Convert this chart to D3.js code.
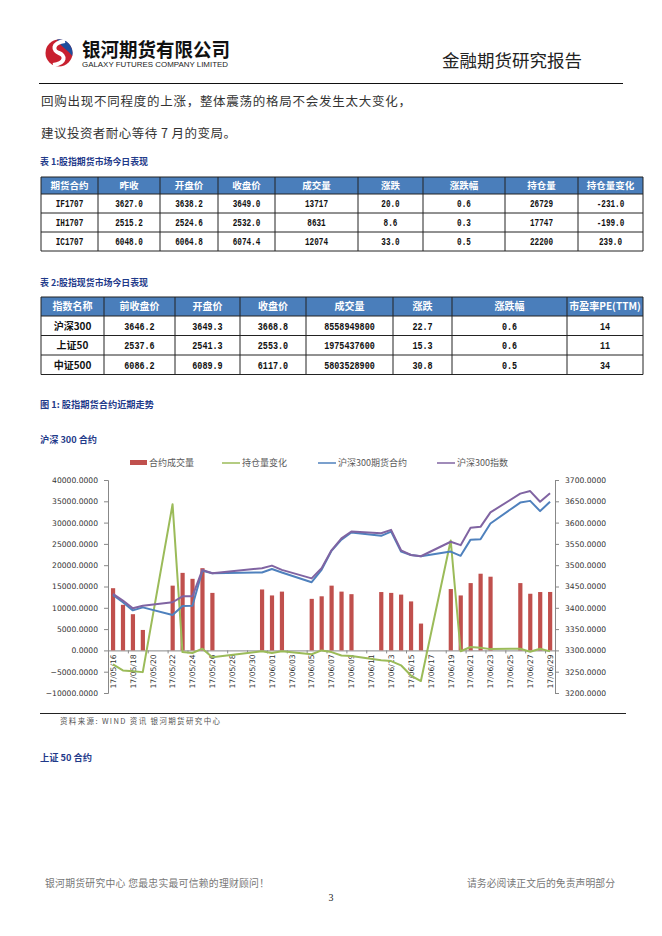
<!DOCTYPE html>
<html><head><meta charset="utf-8">
<script src="https://cdn.jsdelivr.net/npm/d3@7"></script>
<style>body{margin:0;background:#fff}svg{display:block}</style>
</head><body>
<script>
// ---------------- data ----------------
const t1Header = ["期货合约","昨收","开盘价","收盘价","成交量","涨跌","涨跌幅","持仓量","持仓量变化"];
const t1Rows = [
  ["IF1707","3627.0","3638.2","3649.0","13717","20.0","0.6","26729","-231.0"],
  ["IH1707","2515.2","2524.6","2532.0","8631","8.6","0.3","17747","-199.0"],
  ["IC1707","6048.0","6064.8","6074.4","12074","33.0","0.5","22200","239.0"]
];
const t2Header = ["指数名称","前收盘价","开盘价","收盘价","成交量","涨跌","涨跌幅","市盈率PE(TTM)"];
const t2Rows = [
  ["沪深300","3646.2","3649.3","3668.8","8558949800","22.7","0.6","14"],
  ["上证50","2537.6","2541.3","2553.0","1975437600","15.3","0.6","11"],
  ["中证500","6086.2","6089.9","6117.0","5803528900","30.8","0.5","34"]
];
const dates = ["2017-05-16","2017-05-17","2017-05-18","2017-05-19","2017-05-22","2017-05-23","2017-05-24","2017-05-25","2017-05-26","2017-05-31","2017-06-01","2017-06-02","2017-06-05","2017-06-06","2017-06-07","2017-06-08","2017-06-09","2017-06-12","2017-06-13","2017-06-14","2017-06-15","2017-06-16","2017-06-19","2017-06-20","2017-06-21","2017-06-22","2017-06-23","2017-06-26","2017-06-27","2017-06-28","2017-06-29"];
const volume = [14600,10700,8500,4800,15200,18200,16800,19300,13500,14300,12900,13800,12100,12700,15200,13800,13200,13700,13500,13100,11500,6300,14400,12900,15800,18000,17300,15800,13300,13700,13717];
const oiChange = [-3300,-4700,-4900,-5100,34300,-400,-600,400,-1600,-200,-600,-200,-900,0,-400,-1200,-1300,-2300,-2500,-3500,-5900,-7200,25800,-200,800,600,300,400,-300,400,-231];
const futures = [3430,3413,3394,3401,3383,3404,3405,3487,3481,3483,3491,3483,3460,3489,3534,3560,3577,3569,3579,3532,3524,3521,3532,3522,3560,3561,3598,3647,3651,3627,3649];
const index300 = [3433,3417,3399,3405,3413,3427,3427,3489,3481,3493,3499,3489,3469,3493,3535,3563,3579,3575,3583,3535,3524,3521,3555,3547,3588,3590,3624,3668,3674,3649,3668.8];
const seriesNames = ["合约成交量","持仓量变化","沪深300期货合约","沪深300指数"];
const leftTicks = [-10000,-5000,0,5000,10000,15000,20000,25000,30000,35000,40000];
const rightTicks = [3200,3250,3300,3350,3400,3450,3500,3550,3600,3650,3700];

// ---------------- page ----------------
const CJK = "'Noto Sans CJK SC', sans-serif";
const svg = d3.select("body").append("svg").attr("width",662).attr("height",936);
svg.append("rect").attr("width",662).attr("height",936).attr("fill","#fff");

// logo
const logo = svg.append("g").attr("transform","translate(59,53)");
logo.append("circle").attr("r",13.5).attr("fill","#c8202f");
logo.append("path").attr("d","M -2,-13.5 A 13.5 13.5 0 0 1 13.2,3 C 8,-4 2,-6 -2,-13.5 Z").attr("fill","#1f4e9c");
logo.append("path").attr("d","M 6,-12 C -8,-10 -6,-2 0,0 C 6,2 8,10 -6,12").attr("fill","none").attr("stroke","#fff").attr("stroke-width",4);
svg.append("text").attr("x",82).attr("y",57).attr("font-family",CJK).attr("font-weight","bold")
  .attr("font-size",19).attr("textLength",148).attr("lengthAdjust","spacingAndGlyphs").attr("fill","#111").text("银河期货有限公司");
svg.append("text").attr("x",82).attr("y",67).attr("font-family","'Liberation Sans Narrow','Liberation Sans',sans-serif")
  .attr("font-size",6.5).attr("textLength",146).attr("lengthAdjust","spacingAndGlyphs").attr("fill","#222").text("GALAXY FUTURES COMPANY LIMITED");
svg.append("text").attr("x",442).attr("y",67).attr("font-family",CJK).attr("font-size",17)
  .attr("textLength",140).attr("lengthAdjust","spacingAndGlyphs").attr("fill","#222").text("金融期货研究报告");
svg.append("line").attr("x1",39).attr("x2",623).attr("y1",83.5).attr("y2",83.5).attr("stroke","#111").attr("stroke-width",1);

// paragraph
svg.append("text").attr("x",41).attr("y",106).attr("font-family",CJK).attr("font-size",12.5)
  .attr("textLength",370).attr("lengthAdjust","spacing").attr("fill","#333").text("回购出现不同程度的上涨，整体震荡的格局不会发生太大变化，");
svg.append("text").attr("x",41).attr("y",138).attr("font-family",CJK).attr("font-size",12.5)
  .attr("textLength",195).attr("lengthAdjust","spacing").attr("fill","#333").text("建议投资者耐心等待 7 月的变局。");

function heading(txt,y,len){
  svg.append("text").attr("x",40).attr("y",y).attr("font-family",CJK).attr("font-weight","bold")
    .attr("font-size",9).attr("fill","#1f3a8a").attr("textLength",len).attr("lengthAdjust","spacingAndGlyphs").text(txt);
}
heading("表 1:股指期货市场今日表现",165,108);
heading("表 2:股指现货市场今日表现",286,108);
heading("图 1: 股指期货合约近期走势",408,114);
heading("沪深 300 合约",443,57);
heading("上证 50 合约",761,52);

function drawTable(cols, top, hh, rh, header, rows, hfs, bfs, firstBold){
  const g = svg.append("g");
  const left = cols[0], right = cols[cols.length-1];
  g.append("rect").attr("x",left).attr("y",top).attr("width",right-left).attr("height",hh).attr("fill","#4a7ebb");
  header.forEach((h,i)=>{
    const t = g.append("text").attr("x",(cols[i]+cols[i+1])/2).attr("y",top+hh/2+hfs*0.36).attr("text-anchor","middle")
      .attr("font-family",CJK).attr("font-weight","bold").attr("font-size",hfs).attr("fill","#fff").text(h);
    const avail = cols[i+1]-cols[i]-4;
    if(t.node().getComputedTextLength() > avail) t.attr("textLength",avail).attr("lengthAdjust","spacingAndGlyphs");
  });
  const bottom = top+hh+rh*rows.length;
  rows.forEach((r,j)=>{
    const cy = top+hh+rh*j+rh/2;
    r.forEach((v,i)=>{
      const t = g.append("text").attr("x",(cols[i]+cols[i+1])/2).attr("y",cy+bfs*0.36).attr("text-anchor","middle").attr("fill","#111");
      if(i===0 && firstBold){
        t.attr("font-family",CJK).attr("font-weight","bold").attr("font-size",bfs-1).text(v);
      } else {
        t.attr("font-family","'Liberation Mono',monospace").attr("font-size",bfs).attr("font-weight","bold")
         .attr("textLength",v.length*bfs*0.46).attr("lengthAdjust","spacingAndGlyphs").text(v);
      }
    });
    g.append("line").attr("x1",left).attr("x2",right).attr("y1",top+hh+rh*(j+1)).attr("y2",top+hh+rh*(j+1)).attr("stroke","#222").attr("stroke-width",1);
  });
  cols.forEach(c=>g.append("line").attr("x1",c).attr("x2",c).attr("y1",top).attr("y2",bottom).attr("stroke","#222").attr("stroke-width",1));
  g.append("line").attr("x1",left).attr("x2",right).attr("y1",top).attr("y2",top).attr("stroke","#222");
  g.append("line").attr("x1",left).attr("x2",right).attr("y1",top+hh).attr("y2",top+hh).attr("stroke","#222");
}
drawTable([41,98,160,218,275,358,423,505,578,643],177,17,19,t1Header,t1Rows,9.5,10,false);
drawTable([41,104,175,240,306,393,452,567,643],297,19,19.5,t2Header,t2Rows,10,11,true);

// ---------------- chart ----------------
const parse = d3.utcParse("%Y-%m-%d");
const dd = dates.map(parse);
const x0 = parse("2017-05-16"), x1 = parse("2017-06-30");
const x = d3.scaleUtc().domain([x0,x1]).range([108,555]);
const half = 12*3600*1000;
const cx = d => x(new Date(d.getTime()+half));
const yL = d3.scaleLinear().domain([-10000,40000]).range([693,480]);
const yR = d3.scaleLinear().domain([3200,3700]).range([693,480]);
const axisColor = "#888";
const tickFont = "'DejaVu Sans',sans-serif";

const gAL = svg.append("g").attr("transform","translate(108,0)")
  .call(d3.axisLeft(yL).tickValues(leftTicks).tickFormat(d3.format(".4f")).tickSize(4).tickPadding(6));
const gAR = svg.append("g").attr("transform","translate(555,0)")
  .call(d3.axisRight(yR).tickValues(rightTicks).tickFormat(d3.format(".4f")).tickSize(4).tickPadding(6));
[gAL,gAR].forEach(g=>{
  g.select(".domain").attr("stroke",axisColor);
  g.selectAll(".tick line").attr("stroke",axisColor);
  g.selectAll(".tick text").attr("font-family",tickFont).attr("font-size",7.6).attr("fill","#333");
});

// x axis at zero
const labelDays = d3.utcDay.range(x0,x1,1).filter((d,i)=>i%2===0);
const gX = svg.append("g").attr("transform",`translate(0,${yL(0)})`)
  .call(d3.axisBottom(x).tickValues(labelDays).tickSize(3).tickFormat(""));
gX.select(".domain").attr("stroke",axisColor);
gX.selectAll(".tick line").attr("stroke",axisColor);
svg.append("g").selectAll("text").data(labelDays).join("text")
  .attr("transform",d=>`translate(${cx(d)+2.8},${yL(0)+4}) rotate(-90)`)
  .attr("text-anchor","end").attr("font-family",tickFont).attr("font-size",7.6).attr("fill","#333")
  .text(d=>d3.utcFormat("%y/%m/%d")(d));

// bars
svg.append("g").selectAll("rect").data(volume).join("rect")
  .attr("x",(v,i)=>cx(dd[i])-2).attr("width",4.2)
  .attr("y",v=>yL(v)).attr("height",v=>yL(0)-yL(v)).attr("fill","#c0504d");

function line(vals, scale, color){
  svg.append("path").datum(vals)
    .attr("d", d3.line().x((v,i)=>cx(dd[i])).y(v=>scale(v)))
    .attr("fill","none").attr("stroke",color).attr("stroke-width",2).attr("stroke-linejoin","round");
}
line(oiChange,yL,"#9bbb59");
line(futures,yR,"#4f81bd");
line(index300,yR,"#8064a2");

// legend
const legY = 463;
const lg = svg.append("g").attr("font-family",CJK).attr("font-size",9).attr("fill","#595959");
lg.append("rect").attr("x",130).attr("y",legY-3).attr("width",17).attr("height",5).attr("fill","#c0504d");
const legItems = [
  {x:222, c:"#9bbb59", t:seriesNames[1]},
  {x:318, c:"#4f81bd", t:seriesNames[2]},
  {x:437, c:"#8064a2", t:seriesNames[3]}
];
lg.append("text").attr("x",149).attr("y",legY+3).text(seriesNames[0]);
legItems.forEach(d=>{
  lg.append("line").attr("x1",d.x).attr("x2",d.x+18).attr("y1",legY).attr("y2",legY).attr("stroke",d.c).attr("stroke-width",1.5);
  lg.append("text").attr("x",d.x+20).attr("y",legY+3).text(d.t);
});

// source + separator
svg.append("line").attr("x1",40).attr("x2",626).attr("y1",713.5).attr("y2",713.5).attr("stroke","#222");
svg.append("text").attr("x",60).attr("y",724).attr("font-family",CJK).attr("font-size",7.5).attr("fill","#555")
  .attr("textLength",160).attr("lengthAdjust","spacing").text("资料来源: WIND 资讯   银河期货研究中心");

// footer
svg.append("text").attr("x",45).attr("y",887).attr("font-family",CJK).attr("font-size",9.8).attr("fill","#777")
  .attr("textLength",224).attr("lengthAdjust","spacing").text("银河期货研究中心  您最忠实最可信赖的理财顾问！");
svg.append("text").attr("x",467).attr("y",887).attr("font-family",CJK).attr("font-size",9.8).attr("fill","#777")
  .attr("textLength",148).attr("lengthAdjust","spacing").text("请务必阅读正文后的免责声明部分");
svg.append("text").attr("x",331).attr("y",901).attr("text-anchor","middle").attr("font-family","'Liberation Serif',serif").attr("font-size",10).attr("fill","#222").text("3");
</script>
</body></html>
